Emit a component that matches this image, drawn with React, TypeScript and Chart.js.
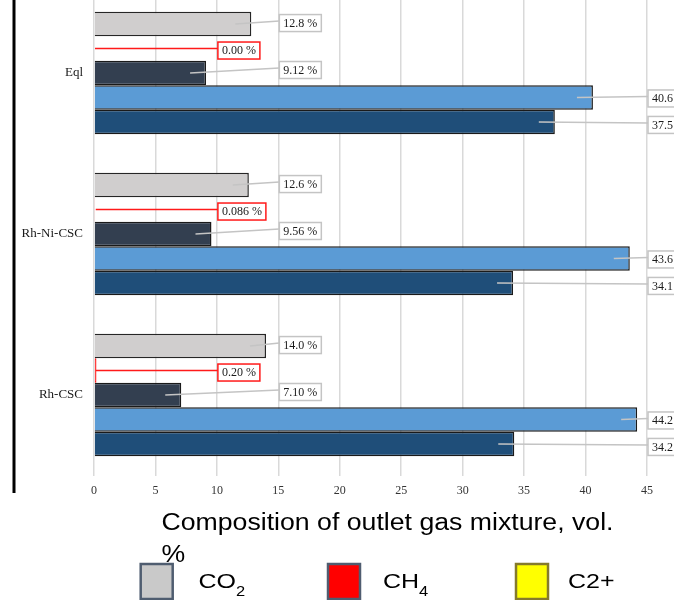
import { useEffect, useRef } from "react";
import { Chart, registerables } from "chart.js";

Chart.register(...registerables);

// ---- data ----
const categories = ["Eql", "Rh-Ni-CSC", "Rh-CSC"];
const co2Values = [12.8, 12.6, 14.0];
const ch4Values = [0.0, 0.086, 0.2];
const h2oValues = [9.12, 9.56, 7.1];
const h2Values = [40.6, 43.6, 44.2];
const coValues = [37.5, 34.1, 34.2];
const seriesNames = ["CO₂", "CH₄", "H₂O", "H₂", "CO"];
const xTickValues = [0, 5, 10, 15, 20, 25, 30, 35, 40, 45];
const axisTitleLines = ["Composition of outlet gas mixture, vol.", "%"];
const legendMain = ["CO", "CH", "C2+"];
const legendSub = ["2", "4", ""];

// ---- styles ----
const SHIFT = 20;
const W = 674;
const H = 620;
const barColors = ["#d0cece", "#ff0000", "#333f50", "#5b9bd5", "#1f4e79"];
const barBorders = ["#262626", "#ff0000", "#1a1a1a", "#1a1a1a", "#1a1a1a"];
const labelBoxAt = [15, 10, 15, 45, 45];
const labelDy = [-1, 2, -3, 1, 3];
const legendFills = ["#c9c9c9", "#ff0000", "#ffff00"];
const legendBorders = ["#4f5d70", "#4f5d70", "#857a2c"];
const legendBoxX = [140.7, 328, 516];
const legendTextX = [198.5, 383, 568];

function fmt(v: number): string {
  if (v === 0) return "0.00";
  return v < 1 ? v.toPrecision(2) : v.toPrecision(3);
}

const annotPlugin = {
  id: "annot",
  afterDatasetsDraw(chart: any) {
    const ctx = chart.ctx as CanvasRenderingContext2D;
    const xs = chart.scales.x;
    chart.data.datasets.forEach((ds: any, i: number) => {
      const meta = chart.getDatasetMeta(i);
      meta.data.forEach((el: any, j: number) => {
        const v = ds.data[j] as number;
        const isRed = i === 1;
        const text = fmt(v) + " %";
        ctx.save();
        ctx.font = '12px "Liberation Serif"';
        const tw = ctx.measureText(text).width;
        const bw = tw + 8;
        const bh = 17;
        const bx = xs.getPixelForValue(labelBoxAt[i]) + 1;
        const cy = el.y + labelDy[i];
        const by = cy - bh / 2;
        const ax = isRed ? el.base + 1 : el.x - 16;
        ctx.strokeStyle = isRed ? "#ff1a1a" : "#c4c4c4";
        ctx.lineWidth = 1.5;
        ctx.beginPath();
        ctx.moveTo(ax, el.y);
        ctx.lineTo(bx, cy - 2);
        ctx.stroke();
        ctx.fillStyle = "#ffffff";
        ctx.fillRect(bx, by, bw, bh);
        ctx.strokeRect(bx, by, bw, bh);
        ctx.fillStyle = "#1a1a1a";
        ctx.textBaseline = "middle";
        ctx.textAlign = "left";
        ctx.fillText(text, bx + 4, cy + 0.5);
        ctx.restore();
      });
    });
  },
  afterDraw(chart: any) {
    const ctx = chart.ctx as CanvasRenderingContext2D;
    ctx.save();
    // left black frame line
    ctx.fillStyle = "#000000";
    ctx.fillRect(12.5, 0, 3, 493 + SHIFT);

    // axis title
    ctx.fillStyle = "#000000";
    ctx.textBaseline = "alphabetic";
    ctx.textAlign = "left";
    ctx.font = '23px "Liberation Sans"';
    const tw = ctx.measureText(axisTitleLines[0]).width;
    const sx = 452 / tw;
    ctx.save();
    ctx.translate(161.5, 529.5 + SHIFT);
    ctx.scale(sx, 1);
    ctx.fillText(axisTitleLines[0], 0, 0);
    ctx.restore();
    ctx.save();
    ctx.translate(161.5, 562 + SHIFT);
    ctx.scale(sx, 1);
    ctx.fillText(axisTitleLines[1], 0, 0);
    ctx.restore();

    // legend
    for (let k = 0; k < legendMain.length; k++) {
      ctx.fillStyle = legendFills[k];
      ctx.fillRect(legendBoxX[k], 564 + SHIFT, 32, 35);
      ctx.strokeStyle = legendBorders[k];
      ctx.lineWidth = 2.5;
      ctx.strokeRect(legendBoxX[k], 564 + SHIFT, 32, 35);
      ctx.fillStyle = "#000000";
      ctx.font = '20px "Liberation Sans"';
      const mw = ctx.measureText(legendMain[k]).width * 1.25;
      ctx.save();
      ctx.translate(legendTextX[k], 588 + SHIFT);
      ctx.scale(1.25, 1);
      ctx.fillText(legendMain[k], 0, 0);
      ctx.restore();
      if (legendSub[k]) {
        ctx.font = '15px "Liberation Sans"';
        ctx.save();
        ctx.translate(legendTextX[k] + mw, 596 + SHIFT);
        ctx.scale(1.1, 1);
        ctx.fillText(legendSub[k], 0, 0);
        ctx.restore();
      }
    }
    ctx.restore();
  },
};

export default function App() {
  const ref = useRef<HTMLCanvasElement | null>(null);
  useEffect(() => {
    if (!ref.current) return;
    const seriesValues = [co2Values, ch4Values, h2oValues, h2Values, coValues];
    const chart = new Chart(ref.current, {
      type: "bar",
      data: {
        labels: categories,
        datasets: seriesValues.map((vals, i) => ({
          label: seriesNames[i],
          data: vals,
          backgroundColor: barColors[i],
          borderColor: barBorders[i],
          borderWidth: 1.5,
          categoryPercentage: 0.76,
          barPercentage: 1,
        })),
      },
      options: {
        indexAxis: "y",
        responsive: false,
        animation: false,
        devicePixelRatio: 1,
        layout: { padding: { top: 12.5, right: 27, bottom: 100.5, left: 0 } },
        plugins: { legend: { display: false }, tooltip: { enabled: false }, title: { display: false } },
        scales: {
          x: {
            type: "linear",
            min: 0,
            max: 45,
            afterBuildTicks: (s: any) => {
              s.ticks = xTickValues.map((v) => ({ value: v }));
            },
            ticks: {
              padding: 8,
              color: "#333333",
              font: { family: '"Liberation Serif"', size: 12 },
            },
            grid: { color: "#d9d9d9", lineWidth: 1.5, drawTicks: false },
            border: { display: false },
            afterFit: (s: any) => {
              s.height = 24;
              s.paddingLeft = 0;
              s.paddingRight = 0;
            },
          },
          y: {
            ticks: {
              padding: 11,
              color: "#1a1a1a",
              font: { family: '"Liberation Serif"', size: 13 },
            },
            grid: { display: false, drawTicks: false },
            border: { display: false },
            afterFit: (s: any) => {
              s.width = 94;
              s.paddingTop = 0;
              s.paddingBottom = 0;
            },
          },
        },
      },
      plugins: [annotPlugin],
    } as any);
    return () => chart.destroy();
  }, []);
  return (
    <div style={{ position: "fixed", left: 0, top: -SHIFT, width: W, height: H, background: "#ffffff" }}>
      <canvas ref={ref} width={W} height={H} style={{ display: "block", width: W, height: H }} />
    </div>
  );
}
